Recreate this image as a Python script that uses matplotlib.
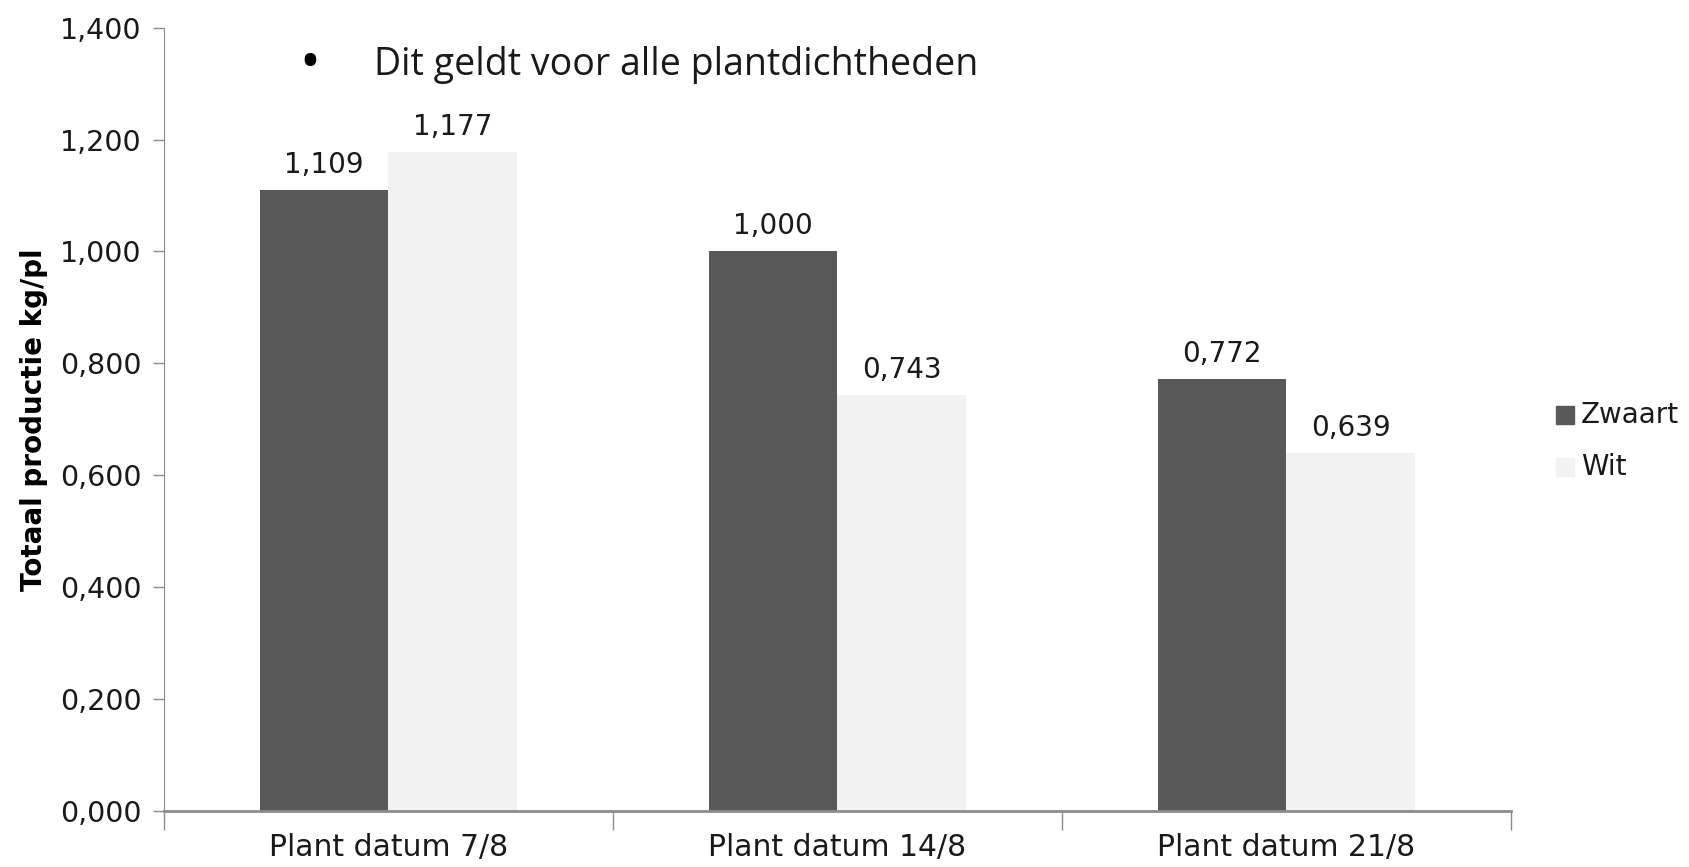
import matplotlib
matplotlib.use("Agg")
import matplotlib.pyplot as plt
import numpy as np
from matplotlib.patches import Rectangle

categorieen = ['Plant datum 7/8', 'Plant datum 14/8', 'Plant datum 21/8']
zwaart = [1.109, 1.000, 0.772]
wit = [1.177, 0.743, 0.639]
y_ticks = [0.0, 0.2, 0.4, 0.6, 0.8, 1.0, 1.2, 1.4]

kleur_zwaart = '#595959'
kleur_wit = '#f2f2f2'
as_kleur = '#8c8c8c'

plt.rcParams['font.family'] = ['DejaVu Sans']

fig = plt.figure(figsize=(16.9, 8.67), dpi=100)
ax = fig.add_axes([0.097, 0.065, 0.797, 0.903])

x = np.arange(len(categorieen))
breedte = 0.286
b1 = ax.bar(x - breedte / 2, zwaart, breedte, color=kleur_zwaart, label='Zwaart')
b2 = ax.bar(x + breedte / 2, wit, breedte, color=kleur_wit, label='Wit')

def label(v):
    return f'{v:.3f}'.replace('.', ',')

for bars, waarden in ((b1, zwaart), (b2, wit)):
    for bar, v in zip(bars, waarden):
        ax.annotate(label(v), (bar.get_x() + bar.get_width() / 2, v),
                    xytext=(0, 8), textcoords='offset points',
                    ha='center', va='bottom', fontsize=20, color='#1a1a1a')

ax.set_xlim(-0.5, 2.5)
ax.set_ylim(0, 1.4)
ax.set_yticks(y_ticks)
ax.set_yticklabels([label(v) for v in y_ticks])
ax.set_xticks(x)
ax.set_xticklabels(categorieen)
ax.set_xticks([-0.5, 0.5, 1.5, 2.5], minor=True)
ax.tick_params(axis='x', which='major', length=0, pad=16, labelsize=21.5, labelcolor='#1a1a1a')
ax.tick_params(axis='x', which='minor', length=14, width=1, color=as_kleur, direction='out')
ax.tick_params(axis='y', length=8, width=1, color=as_kleur, pad=8, labelsize=20.5, labelcolor='#1a1a1a')

for s in ('top', 'right'):
    ax.spines[s].set_visible(False)
ax.spines['left'].set_color(as_kleur)
ax.spines['bottom'].set_color(as_kleur)
ax.spines['bottom'].set_linewidth(2)

ax.set_ylabel('Totaal productie kg/pl', fontsize=20, fontweight='bold')
ax.yaxis.set_label_coords(-0.086, 0.5)

# legende
for i, (naam, kleur) in enumerate((('Zwaart', kleur_zwaart), ('Wit', kleur_wit))):
    y = 1 - (415 + i * 52) / 867
    fig.patches.append(Rectangle((1556 / 1690, y - 9 / 867), 18 / 1690, 18 / 867,
                                 transform=fig.transFigure, color=kleur))
    fig.text(1581 / 1690, y, naam, fontsize=20, va='center', ha='left', color='#1a1a1a')

# tekst uit de dia
fig.text(310 / 1690, 1 - 65 / 867, '•', fontsize=40, va='center', ha='center',
         family=['Open Sans', 'DejaVu Sans'])
fig.text(374 / 1690, 1 - 65 / 867, 'Dit geldt voor alle plantdichtheden', fontsize=27,
         va='center', ha='left', family=['Open Sans', 'DejaVu Sans'], color='#1a1a1a')

fig.savefig('out.png', dpi=100)
